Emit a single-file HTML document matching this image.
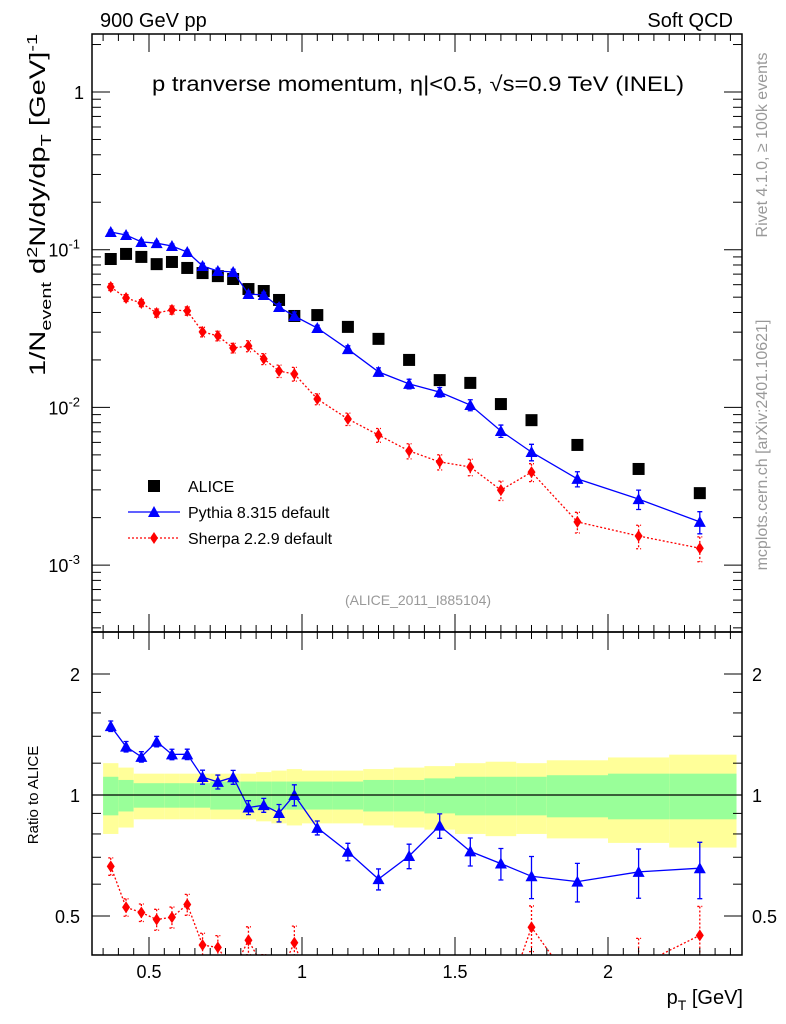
<!DOCTYPE html>
<html><head><meta charset="utf-8"><style>
html,body{margin:0;padding:0;background:#fff;}
svg{display:block;font-family:"Liberation Sans",Arial,sans-serif;}
</style></head><body>
<svg id="chart" width="786" height="1024" viewBox="0 0 786 1024" xmlns="http://www.w3.org/2000/svg">
<defs>
<clipPath id="clipMain"><rect x="92" y="34" width="650" height="598"/></clipPath>
<clipPath id="clipRatio"><rect x="92" y="632" width="650" height="323"/></clipPath>
</defs>
<g id="bands" clip-path="url(#clipRatio)"></g>
<g id="marks"></g>
<g id="axes"></g>
<text x="100" y="27" font-size="20">900 GeV pp</text>
<text x="733" y="27" font-size="20" text-anchor="end">Soft QCD</text>
<text x="152" y="91" font-size="21" textLength="532" lengthAdjust="spacingAndGlyphs">p tranverse momentum, η|&lt;0.5, √s=0.9 TeV (INEL)</text>
<text x="418" y="605" font-size="14" fill="#999" text-anchor="middle">(ALICE_2011_I885104)</text>
<text transform="translate(767,145) rotate(-90)" font-size="16" fill="#999" text-anchor="middle">Rivet 4.1.0, ≥ 100k events</text>
<text transform="translate(767,445) rotate(-90)" font-size="16" fill="#999" text-anchor="middle">mcplots.cern.ch [arXiv:2401.10621]</text>
<text transform="translate(45,376) rotate(-90)" font-size="22" textLength="342" lengthAdjust="spacingAndGlyphs">1/N<tspan font-size="15" dy="6">event</tspan><tspan dy="-6"> d</tspan><tspan font-size="15" dy="-8">2</tspan><tspan dy="8">N/dy/dp</tspan><tspan font-size="15" dy="6">T</tspan><tspan dy="-6"> [GeV]</tspan><tspan font-size="15" dy="-8">-1</tspan></text>
<text transform="translate(38,795) rotate(-90)" font-size="15" text-anchor="middle">Ratio to ALICE</text>
<text x="743" y="1004" font-size="20" text-anchor="end">p<tspan font-size="14" dy="6">T</tspan><tspan dy="-6"> [GeV]</tspan></text>
<g>
<rect x="148" y="480" width="12" height="12" fill="#000"/>
<text x="188" y="492" font-size="16">ALICE</text>
<line x1="128" y1="512" x2="180" y2="512" stroke="#00f" stroke-width="1.3"/>
<polygon points="154,506 160,517 148,517" fill="#00f"/>
<text x="188" y="518" font-size="16">Pythia 8.315 default</text>
<line x1="128" y1="538" x2="180" y2="538" stroke="#f00" stroke-width="1.3" stroke-dasharray="2,2"/>
<polygon points="154,532 158,538 154,544 150,538" fill="#f00"/>
<text x="188" y="544" font-size="16">Sherpa 2.2.9 default</text>
</g>
</svg>
<script>
const pt = [0.375,0.425,0.475,0.525,0.575,0.625,0.675,0.725,0.775,0.825,0.875,0.925,0.975,1.05,1.15,1.25,1.35,1.45,1.55,1.65,1.75,1.9,2.1,2.3];
const binEdges = [0.35,0.4,0.45,0.5,0.55,0.6,0.65,0.7,0.75,0.8,0.85,0.9,0.95,1.0,1.1,1.2,1.3,1.4,1.5,1.6,1.7,1.8,2.0,2.2,2.42];
const alice = [0.0873,0.094,0.090,0.081,0.0836,0.0766,0.0711,0.068,0.0652,0.0563,0.0547,0.048,0.038,0.0385,0.0324,0.0272,0.020,0.0149,0.0143,0.0105,0.0083,0.00578,0.00407,0.00286];
const pythia = [0.1295,0.124,0.112,0.110,0.1055,0.0967,0.0788,0.0733,0.0722,0.0524,0.0516,0.0433,0.038,0.0319,0.0234,0.0168,0.0141,0.0125,0.01035,0.00709,0.00521,0.00352,0.00262,0.00188];
const pythiaErr = [0.03,0.03,0.03,0.03,0.03,0.03,0.04,0.04,0.04,0.04,0.04,0.05,0.06,0.04,0.05,0.06,0.07,0.07,0.08,0.09,0.12,0.11,0.14,0.16];
const sherpa = [0.058,0.0494,0.0459,0.0397,0.0415,0.0409,0.0301,0.0284,0.0238,0.0245,0.0203,0.0170,0.0163,0.0113,0.00844,0.00668,0.0053,0.00451,0.00419,0.00299,0.00389,0.00188,0.00153,0.00128];
const sherpaErr = [0.05,0.05,0.05,0.06,0.06,0.06,0.07,0.07,0.07,0.08,0.08,0.09,0.1,0.08,0.09,0.1,0.11,0.11,0.12,0.14,0.13,0.15,0.17,0.18];
const bandGreen = [0.11,0.09,0.07,0.07,0.07,0.07,0.07,0.08,0.08,0.08,0.08,0.08,0.08,0.08,0.08,0.09,0.09,0.1,0.11,0.11,0.11,0.12,0.13,0.13];
const bandYellow = [0.2,0.17,0.13,0.13,0.13,0.13,0.13,0.13,0.13,0.13,0.14,0.15,0.16,0.15,0.15,0.16,0.17,0.18,0.2,0.21,0.2,0.22,0.24,0.26];
const xTicks = [0.5,1,1.5,2];
const yTicks = [1,0.1,0.01,0.001];
const rTicks = [0.5,1,2];

const NS="http://www.w3.org/2000/svg";
const X0=92,X1=742,YT=34,YM=632,YB=955;
const xs=v=>-4+306*v;
const ys=v=>92-157.7*Math.log10(v);
const rs=v=>795-121*Math.log2(v);
function mk(tag,attrs,parent){const e=document.createElementNS(NS,tag);for(const k in attrs)e.setAttribute(k,attrs[k]);parent.appendChild(e);return e;}
const bands=document.getElementById('bands'),marks=document.getElementById('marks'),axes=document.getElementById('axes');

for(let i=0;i<pt.length;i++){
  const xa=xs(binEdges[i]),xb=xs(binEdges[i+1]);
  const y=mk('rect',{x:xa,y:rs(1+bandYellow[i]),width:xb-xa,height:rs(1-bandYellow[i])-rs(1+bandYellow[i]),fill:'#ffff99'},bands);
  
  
  const g=mk('rect',{x:xa,y:rs(1+bandGreen[i]),width:xb-xa,height:rs(1-bandGreen[i])-rs(1+bandGreen[i]),fill:'#99ff99'},bands);
  
  
}
const ref=mk('line',{x1:X0,x2:X1,y1:rs(1),y2:rs(1),stroke:'#000','stroke-width':1.3},axes);



function series(vals,errs,color,dash,marker,yfun,clip,name){
  const g=mk('g',{'clip-path':'url(#'+clip+')'},marks);
  
  
  let d='';
  vals.forEach((v,i)=>{d+=(i?'L':'M')+xs(pt[i]).toFixed(1)+','+yfun(v).toFixed(1);});
  const l=mk('path',{d:d,fill:'none',stroke:color,'stroke-width':1.3},g);
  if(dash)l.setAttribute('stroke-dasharray',dash);
  
  
  vals.forEach((v,i)=>{
    const x=xs(pt[i]),yu=yfun(v*(1+errs[i])),yd=yfun(v*(1-errs[i])),y=yfun(v);
    const e=mk('path',{d:`M${x},${yu}L${x},${yd}M${x-2.5},${yu}L${x+2.5},${yu}M${x-2.5},${yd}L${x+2.5},${yd}`,stroke:color,'stroke-width':1.3,fill:'none'},g);
    if(dash)e.setAttribute('stroke-dasharray',dash);
    
    
    let p;
    if(marker==='tri')p=mk('polygon',{points:`${x},${y-6} ${x+6},${y+5} ${x-6},${y+5}`,fill:color},g);
    else p=mk('polygon',{points:`${x},${y-6} ${x+4},${y} ${x},${y+6} ${x-4},${y}`,fill:color},g);
    
    
  });
}
alice.forEach((v,i)=>{
  const r=mk('rect',{x:xs(pt[i])-6,y:ys(v)-6,width:12,height:12,fill:'#000'},marks);
  
  
});
series(pythia,pythiaErr,'#00f',null,'tri',ys,'clipMain','pythia-series');
series(sherpa,sherpaErr,'#f00','2,2','dia',ys,'clipMain','sherpa-series');
const pR=pythia.map((v,i)=>v/alice[i]), sR=sherpa.map((v,i)=>v/alice[i]);
series(pR,pythiaErr,'#00f',null,'tri',rs,'clipRatio','pythia-ratio-series');
series(sR,sherpaErr,'#f00','2,2','dia',rs,'clipRatio','sherpa-ratio-series');

[[YT,YM,'main-frame'],[YM,YB,'ratio-frame']].forEach(f=>{
  const r=mk('rect',{x:X0,y:f[0],width:X1-X0,height:f[1]-f[0],fill:'none',stroke:'#000','stroke-width':1.5},axes);
  
  
});
function tick(x1,y1,x2,y2){mk('line',{x1,y1,x2,y2,stroke:'#000','stroke-width':1},axes);}
for(let k=7;k<=48;k++){
  const v=k/20,x=xs(v);if(x<X0||x>X1)continue;
  const maj=(k%10===0),L=maj?18:7;
  [[YT,1],[YM,-1],[YM,1],[YB,-1]].forEach(([y,s])=>tick(x,y,x,y+s*L));
}
xTicks.forEach(v=>{
  const t=mk('text',{x:xs(v),y:978,'font-size':18,'text-anchor':'middle'},axes);
  t.textContent=String(v);
  
  
});
for(let e=-4;e<=0;e++)for(let m=1;m<=9;m++){
  const v=m*Math.pow(10,e),y=ys(v);if(y<YT||y>YM)continue;
  const L=m===1?18:9;tick(X0,y,X0+L,y);tick(X1,y,X1-L,y);
}
const yl=['1','10','10','10'],ye=['','-1','-2','-3'];
yTicks.forEach((v,i)=>{
  const t=mk('text',{x:i?80:84,y:ys(v)+7,'font-size':18,'text-anchor':'end'},axes);
  t.textContent=yl[i];
  if(ye[i]){const s=mk('tspan',{'font-size':13,dy:-8},t);s.textContent=ye[i];}
  
  
});
[0.4,0.6,0.7,0.8,0.9,1.2,1.4,1.6,1.8].forEach(v=>{const y=rs(v);tick(X0,y,X0+9,y);tick(X1,y,X1-9,y);});
rTicks.forEach(v=>{
  const y=rs(v);tick(X0,y,X0+18,y);tick(X1,y,X1-18,y);
  [[80,'end'],[752,'start']].forEach(([x,a])=>{
    const t=mk('text',{x:x,y:y+7,'font-size':18,'text-anchor':a},axes);
    t.textContent=String(v);
    
    
  });
});
</script>
</body></html>
